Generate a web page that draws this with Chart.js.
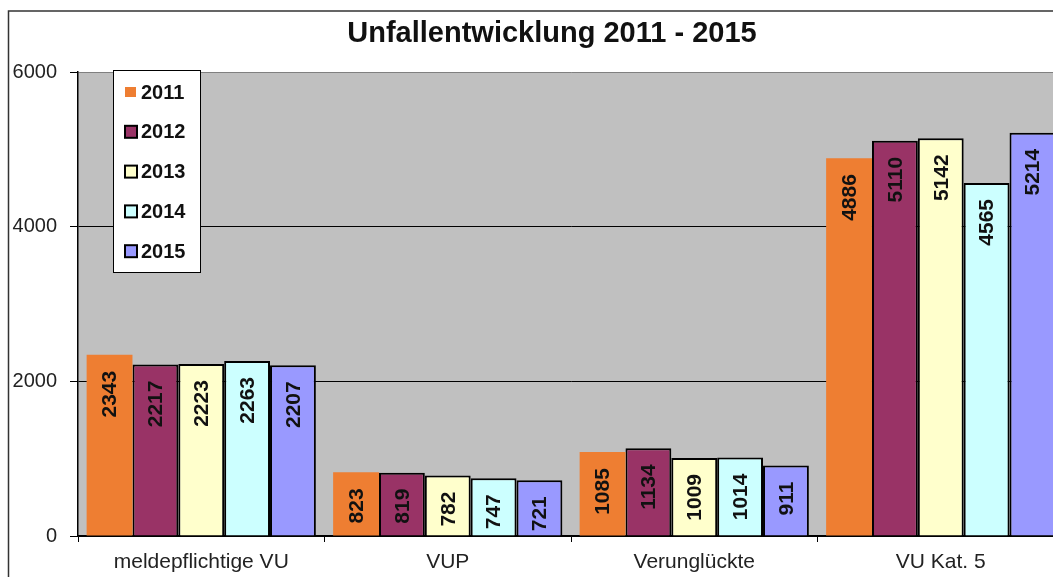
<!DOCTYPE html>
<html>
<head>
<meta charset="utf-8">
<script src="https://cdn.jsdelivr.net/npm/chart.js@4/dist/chart.umd.min.js"></script>
<style>
  body { margin: 0; background: #fff; }
  #wrap { position: absolute; left: 0; top: 0; width: 1053px; height: 577px; overflow: hidden; }
</style>
</head>
<body>
<div id="wrap"><canvas id="chart" width="1104" height="577"></canvas></div>
<script>
var chartTitle = "Unfallentwicklung 2011 - 2015";
var categories = ["meldepflichtige VU", "VUP", "Verunglückte", "VU Kat. 5"];
var years = ["2011", "2012", "2013", "2014", "2015"];
var v2011 = [2343, 823, 1085, 4886];
var v2012 = [2217, 819, 1134, 5110];
var v2013 = [2223, 782, 1009, 5142];
var v2014 = [2263, 747, 1014, 4565];
var v2015 = [2207, 721, 911, 5214];
var yTicks = [0, 2000, 4000, 6000];

var colors = ["#EE7E32", "#993366", "#FFFFCC", "#CCFFFF", "#9999FF"];
var series = [v2011, v2012, v2013, v2014, v2015];

var datasets = [];
for (var i = 0; i < years.length; i++) {
    datasets.push({
        label: years[i],
        data: series[i],
        backgroundColor: colors[i],
        borderColor: "#000",
        borderWidth: i == 0 ? 0 : 2,
        borderSkipped: "bottom",
        categoryPercentage: 0.93,
        barPercentage: 1.0
    });
}

// grey plot area + outer chart frame + title
var backPlugin = {
    id: "back",
    beforeDraw: function(chart) {
        var c = chart.ctx, a = chart.chartArea;
        c.save();
        c.fillStyle = "#C0C0C0";
        c.fillRect(a.left, a.top, a.right - a.left, a.bottom - a.top);
        c.strokeStyle = "#333";
        c.lineWidth = 1.5;
        c.beginPath();
        c.moveTo(8.5, chart.height);
        c.lineTo(8.5, 11);
        c.lineTo(chart.width, 11);
        c.stroke();
        c.fillStyle = "#111";
        c.font = "bold 29px Arial, 'Liberation Sans', sans-serif";
        c.textAlign = "center";
        c.textBaseline = "middle";
        c.fillText(chartTitle, 552, 34);
        c.restore();
    }
};

// rotated value labels + legend box
var labelPlugin = {
    id: "labels",
    afterDatasetsDraw: function(chart) {
        var c = chart.ctx;
        c.save();
        c.fillStyle = "#111";
        c.font = "bold 21px Arial, 'Liberation Sans', sans-serif";
        c.textAlign = "right";
        c.textBaseline = "middle";
        chart.data.datasets.forEach(function(ds, di) {
            var meta = chart.getDatasetMeta(di);
            meta.data.forEach(function(bar, j) {
                c.save();
                c.translate(bar.x, bar.y + 16);
                c.rotate(-Math.PI / 2);
                c.fillText(String(ds.data[j]), 0, 1);
                c.restore();
            });
        });
        c.restore();
    },
    afterDraw: function(chart) {
        var c = chart.ctx;
        c.save();
        c.fillStyle = "#fff";
        c.fillRect(113, 70, 87, 202);
        c.strokeStyle = "#000";
        c.lineWidth = 1;
        c.strokeRect(113.5, 70.5, 87, 202);
        c.font = "bold 20px Arial, 'Liberation Sans', sans-serif";
        c.textBaseline = "middle";
        c.textAlign = "left";
        chart.data.datasets.forEach(function(ds, i) {
            var y = 92 + i * 39.8;
            if (ds.borderWidth > 0) {
                c.fillStyle = "#000";
                c.fillRect(124, y - 7, 14, 14);
                c.fillStyle = ds.backgroundColor;
                c.fillRect(126, y - 5, 10, 10);
            } else {
                c.fillStyle = ds.backgroundColor;
                c.fillRect(125, y - 5, 11, 10);
            }
            c.fillStyle = "#111";
            c.fillText(ds.label, 141, y + 1);
        });
        c.restore();
    }
};

var ctx = document.getElementById("chart");
var myChart = new Chart(ctx, {
    type: "bar",
    data: { labels: categories, datasets: datasets },
    options: {
        responsive: false,
        animation: false,
        layout: { padding: { left: 12, right: 40, top: 72, bottom: 0 } },
        plugins: {
            legend: { display: false },
            title: { display: false },
            tooltip: { enabled: false }
        },
        scales: {
            x: {
                afterFit: function(axis) { axis.height = 41; },
                grid: { display: true, drawOnChartArea: false, color: "#000", tickLength: 6, offset: true },
                border: { color: "#000", width: 1.5 },
                ticks: { color: "#222", padding: 8, font: { family: "Arial, 'Liberation Sans', sans-serif", size: 21 } }
            },
            y: {
                min: 0,
                max: 6000,
                afterBuildTicks: function(axis) {
                    axis.ticks = yTicks.map(function(v) { return { value: v }; });
                },
                afterFit: function(axis) { axis.width = 66; },
                grid: {
                    color: function(c) { return c.tick && c.tick.value == 6000 ? "#808080" : "#000"; },
                    tickColor: "#000",
                    tickLength: 8,
                    lineWidth: 1
                },
                border: { color: "#000", width: 1.5 },
                ticks: {
                    color: "#222",
                    padding: 13,
                    font: { family: "Arial, 'Liberation Sans', sans-serif", size: 20 },
                    callback: function(v) { return String(v); }
                }
            }
        }
    },
    plugins: [backPlugin, labelPlugin]
});
</script>
</body>
</html>
